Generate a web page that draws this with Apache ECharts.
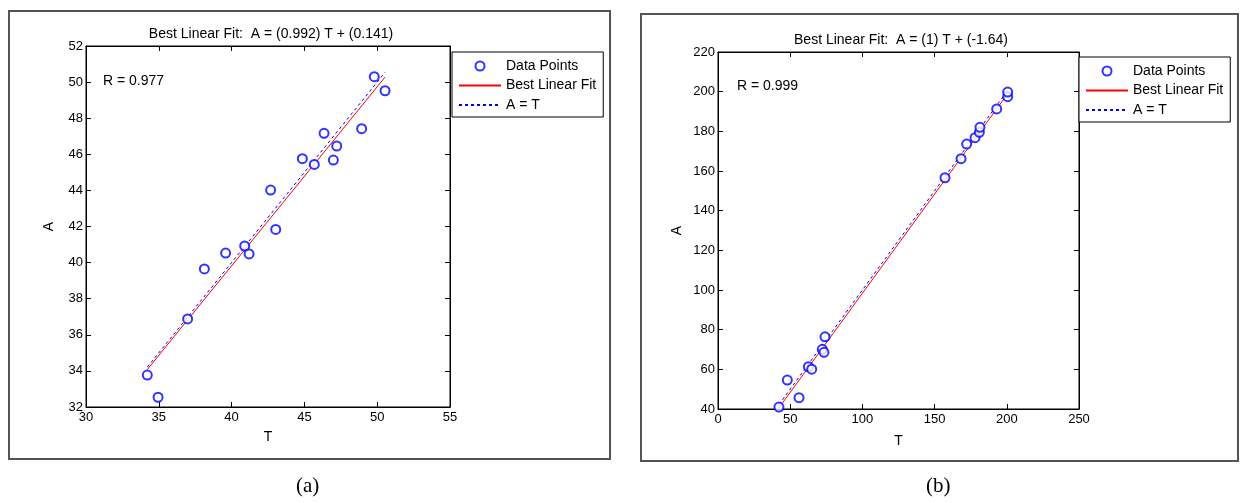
<!DOCTYPE html>
<html>
<head>
<meta charset="utf-8">
<script src="https://cdn.jsdelivr.net/npm/echarts@6/dist/echarts.min.js"></script>
<style>
  html, body { margin: 0; padding: 0; background: #fff; }
  #chart { width: 1244px; height: 503px; }
</style>
</head>
<body>
<div id="chart"></div>
<script>
// panel (a)
var t_a = [34.21, 34.95, 36.98, 38.13, 39.59, 40.90, 41.20, 42.68, 43.03, 44.86, 45.68, 46.35, 46.99, 47.22, 48.93, 49.80, 50.54];
var a_a = [33.77, 32.54, 36.88, 39.65, 40.53, 40.92, 40.48, 44.02, 41.84, 45.76, 45.44, 47.16, 45.68, 46.46, 47.42, 50.30, 49.52];
var fit_a = { slope: 0.992, icpt: 0.141 };
// panel (b)
var t_b = [42.2, 48.0, 56.1, 62.6, 64.9, 72.2, 73.4, 74.1, 157.2, 168.3, 172.2, 178.0, 181.0, 181.4, 193.0, 200.6, 200.6];
var a_b = [41.0, 54.6, 45.7, 61.3, 60.1, 70.1, 68.6, 76.4, 156.6, 166.2, 173.6, 176.8, 179.5, 182.0, 191.3, 197.5, 199.8];
var fit_b = { slope: 1, icpt: -1.64 };

var legend_names = ['Data Points', 'Best Linear Fit', 'A = T'];
var font = 'Liberation Sans, Arial, sans-serif';

function pairs(xs, ys) {
    return xs.map(function (x, i) { return [x, ys[i]]; });
}
function fitLine(xs, f) {
    var lo = Math.min.apply(null, xs), hi = Math.max.apply(null, xs);
    return [[lo, f.slope * lo + f.icpt], [hi, f.slope * hi + f.icpt]];
}
function idLine(xs) {
    var lo = Math.min.apply(null, xs), hi = Math.max.apply(null, xs);
    return [[lo, lo], [hi, hi]];
}

function xAx(grid, min, max, step, pos) {
    return {
        gridIndex: grid, type: 'value', min: min, max: max, interval: step, position: pos,
        name: pos === 'bottom' ? 'T' : '', nameLocation: 'middle', nameGap: grid === 0 ? 23 : 25,
        nameTextStyle: { color: '#000', fontSize: 14, fontFamily: font },
        axisLine: { show: true, onZero: false, lineStyle: { color: '#000', width: 1 } },
        axisTick: { show: true, inside: true, length: 5, lineStyle: { color: '#000' } },
        axisLabel: { show: pos === 'bottom', color: '#000', fontSize: 13, fontFamily: font, margin: 4 },
        splitLine: { show: false }
    };
}
function yAx(grid, min, max, step, pos) {
    return {
        gridIndex: grid, type: 'value', min: min, max: max, interval: step, position: pos,
        name: pos === 'left' ? 'A' : '', nameLocation: 'middle', nameGap: grid === 0 ? 30 : 34,
        nameTextStyle: { color: '#000', fontSize: 14, fontFamily: font },
        axisLine: { show: true, onZero: false, lineStyle: { color: '#000', width: 1 } },
        axisTick: { show: true, inside: true, length: 5, lineStyle: { color: '#000' } },
        axisLabel: { show: pos === 'left', color: '#000', fontSize: 13, fontFamily: font, margin: 3 },
        splitLine: { show: false }
    };
}
function legendAt(left, top) {
    return {
        orient: 'vertical', left: left, top: top,
        data: [
            { name: legend_names[0] },
            { name: legend_names[1], itemStyle: { opacity: 0 } },
            { name: legend_names[2], itemStyle: { opacity: 0 } }
        ],
        itemWidth: 42, itemHeight: 9, itemGap: 5.5, padding: [7, 7, 5, 6],
        borderColor: '#000', borderWidth: 1, backgroundColor: '#fff',
        selectedMode: false,
        textStyle: { color: '#000', fontSize: 14, fontFamily: font }
    };
}
function seriesFor(idx, xs, ys, f) {
    return [
        {
            name: 'Data Points', type: 'scatter', xAxisIndex: idx * 2, yAxisIndex: idx * 2,
            data: pairs(xs, ys), symbol: 'emptyCircle', symbolSize: 9,
            itemStyle: { color: '#0000ff', borderColor: '#0000ff', borderWidth: 1.2 }, z: 5
        },
        {
            name: 'Best Linear Fit', type: 'line', xAxisIndex: idx * 2, yAxisIndex: idx * 2,
            data: fitLine(xs, f), symbol: 'none', animation: false,
            lineStyle: { color: '#ff0000', width: 1 }, itemStyle: { color: '#ff0000' }, z: 4
        },
        {
            name: 'A = T', type: 'line', xAxisIndex: idx * 2, yAxisIndex: idx * 2,
            data: idLine(xs), symbol: 'none', animation: false,
            lineStyle: { color: '#0000ff', width: 1, type: [3, 3] }, itemStyle: { color: '#0000ff' }, z: 3
        }
    ];
}

var chart = echarts.init(document.getElementById('chart'), null, { renderer: 'canvas' });
chart.setOption({
    animation: false,
    backgroundColor: '#fff',
    title: [
        { text: 'Best Linear Fit:  A = (0.992) T + (0.141)', left: 266, top: 22, textAlign: 'center',
          textStyle: { fontSize: 14, fontWeight: 'normal', color: '#000', fontFamily: font } },
        { text: 'Best Linear Fit:  A = (1) T + (-1.64)', left: 896, top: 28, textAlign: 'center',
          textStyle: { fontSize: 14, fontWeight: 'normal', color: '#000', fontFamily: font } }
    ],
    grid: [
        { left: 86, top: 46, width: 364, height: 361, show: true, borderColor: '#000', borderWidth: 1, outerBoundsMode: 'none' },
        { left: 718, top: 52, width: 361, height: 357, show: true, borderColor: '#000', borderWidth: 1, outerBoundsMode: 'none' }
    ],
    xAxis: [
        xAx(0, 30, 55, 5, 'bottom'), xAx(0, 30, 55, 5, 'top'),
        xAx(1, 0, 250, 50, 'bottom'), xAx(1, 0, 250, 50, 'top')
    ],
    yAxis: [
        yAx(0, 32, 52, 2, 'left'), yAx(0, 32, 52, 2, 'right'),
        yAx(1, 40, 220, 20, 'left'), yAx(1, 40, 220, 20, 'right')
    ],
    legend: [legendAt(452, 52), legendAt(1079, 57)],
    series: seriesFor(0, t_a, a_a, fit_a).concat(seriesFor(1, t_b, a_b, fit_b)),
    graphic: [
        { type: 'rect', shape: { x: 9, y: 11, width: 601, height: 448 }, style: { fill: null, stroke: '#555', lineWidth: 2 }, silent: true },
        { type: 'rect', shape: { x: 641, y: 14, width: 597, height: 447 }, style: { fill: null, stroke: '#555', lineWidth: 2 }, silent: true },
        { type: 'text', left: 103, top: 74, style: { text: 'R = 0.977', fontSize: 14, fontFamily: font, fill: '#000' } },
        { type: 'text', left: 737, top: 79, style: { text: 'R = 0.999', fontSize: 14, fontFamily: font, fill: '#000' } },
        { type: 'text', left: 296, top: 476, style: { text: '(a)', fontSize: 21, fontFamily: 'Liberation Serif, Times New Roman, serif', fill: '#000' } },
        { type: 'text', left: 926, top: 476, style: { text: '(b)', fontSize: 21, fontFamily: 'Liberation Serif, Times New Roman, serif', fill: '#000' } }
    ]
});
</script>
</body>
</html>
